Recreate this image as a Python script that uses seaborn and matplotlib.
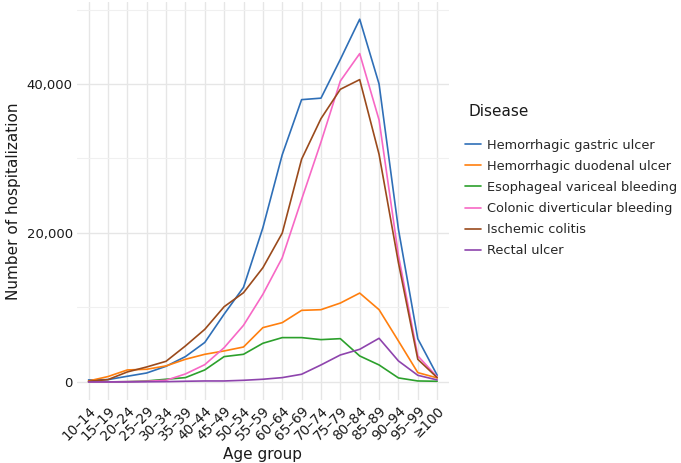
import matplotlib
matplotlib.use("Agg")
import matplotlib.pyplot as plt
import seaborn as sns
import pandas as pd

sns.set_theme(style="whitegrid")
plt.rcParams['font.family'] = ['DejaVu Sans']

# Data
age_groups = ["10\u201314", "15\u201319", "20\u201324", "25\u201329", "30\u201334", "35\u201339",
              "40\u201344", "45\u201349", "50\u201354", "55\u201359", "60\u201364", "65\u201369",
              "70\u201374", "75\u201379", "80\u201384", "85\u201389", "90\u201394", "95\u201399",
              "\u2265100"]
gastric = [270, 310, 760, 1200, 2100, 3400, 5300, 9100, 12700, 20700, 30500, 37900,
           38100, 43300, 48700, 40000, 20500, 5800, 900]
duodenal = [130, 720, 1610, 1700, 2150, 3040, 3710, 4160, 4690, 7290, 7960, 9610,
            9700, 10590, 11930, 9700, 5500, 1250, 540]
variceal = [0, 0, 40, 130, 360, 580, 1610, 3400, 3710, 5190, 5950, 5950,
            5680, 5810, 3490, 2280, 540, 130, 90]
diverticular = [0, 0, 40, 90, 220, 1070, 2320, 4600, 7600, 11760, 16670, 24500,
                32200, 40400, 44080, 35170, 17000, 3500, 670]
colitis = [90, 310, 1340, 2010, 2770, 4830, 7060, 10100, 11980, 15330, 19980, 29900,
           35350, 39290, 40590, 30560, 16000, 3040, 580]
rectal = [0, 0, 0, 20, 40, 90, 130, 130, 220, 360, 580, 1030,
          2280, 3620, 4380, 5860, 2820, 890, 270]

diseases = ["Hemorrhagic gastric ulcer", "Hemorrhagic duodenal ulcer",
            "Esophageal variceal bleeding", "Colonic diverticular bleeding",
            "Ischemic colitis", "Rectal ulcer"]
colors = ["#2f6fb7", "#ff7f0e", "#2ca02c", "#f768c5", "#9a4a1c", "#8e44ad"]

series = [gastric, duodenal, variceal, diverticular, colitis, rectal]
df = pd.DataFrame({
    "Age group": age_groups * len(diseases),
    "Count": [v for s in series for v in s],
    "Disease": [d for d in diseases for _ in age_groups],
})

fig = plt.figure(figsize=(6.81, 4.63), dpi=100)
ax = fig.add_axes([0.113, 0.136, 0.546, 0.860])

sns.lineplot(data=df, x="Age group", y="Count", hue="Disease", hue_order=diseases,
             palette=colors, linewidth=1.2, ax=ax, sort=False)

ax.set_xlim(-0.6, len(age_groups) - 0.4)
ax.set_ylim(-2430, 51030)
ax.set_yticks([0, 20000, 40000])
ax.set_yticks([10000, 30000, 50000], minor=True)
ax.set_yticklabels(["0", "20,000", "40,000"])
ax.set_xticks(range(len(age_groups)))
ax.set_xticklabels(age_groups, rotation=45, ha="right", rotation_mode="anchor")

ax.set_facecolor("white")
for s in ax.spines.values():
    s.set_visible(False)
ax.grid(which="major", color="#e6e6e6", linewidth=1.0)
ax.grid(which="minor", axis="y", color="#f0f0f0", linewidth=0.8)
ax.tick_params(axis="both", which="both", length=0, labelsize=9.5, colors="#1a1a1a", pad=3)
ax.tick_params(axis="x", labelsize=9.8, pad=3)

ax.set_xlabel("Age group", fontsize=11, color="#1a1a1a")
ax.xaxis.set_label_coords(0.5, -0.138)
ax.xaxis.label.set_va("center")
ax.set_ylabel("Number of hospitalization", fontsize=11, color="#1a1a1a", labelpad=4)

# legend: title placed separately to match the gap in the reference
fig.text(469 / 681, 1 - 112 / 463, "Disease", fontsize=11, color="#1a1a1a",
         ha="left", va="center")
leg = ax.legend(loc="upper left", bbox_to_anchor=(465 / 681, 1 - 139 / 463),
                bbox_transform=fig.transFigure, frameon=False, fontsize=9.3,
                handlelength=1.25, handletextpad=0.45, labelspacing=0.62,
                borderaxespad=0, borderpad=0)

plt.savefig("out.png", dpi=100)
